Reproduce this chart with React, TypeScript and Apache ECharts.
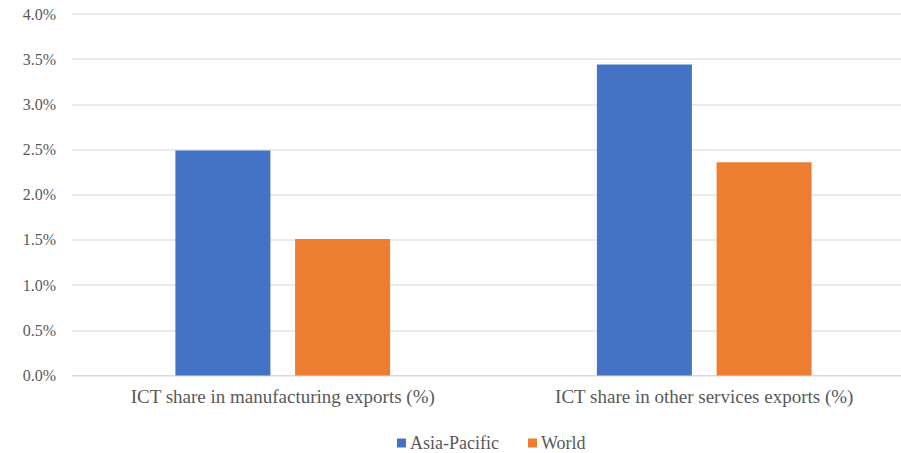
import React, { useEffect, useRef } from "react";
import * as echarts from "echarts";

const categories: string[] = [
  "ICT share in manufacturing exports (%)",
  "ICT share in other services exports (%)",
];
const asiaPacific: number[] = [2.49, 3.44];
const world: number[] = [1.51, 2.36];
const seriesNames: string[] = ["Asia-Pacific", "World"];
const seriesColors: string[] = ["#4472C4", "#ED7D31"];

const FONT = "'Liberation Serif', 'Times New Roman', serif";
const TEXT_COLOR = "#595959";

// Legend keys drawn by hand: square swatch followed by its label.
const legendX: number[] = [397, 528];
const LEGEND_Y = 444;

export default function App() {
  const ref = useRef<HTMLDivElement>(null);

  useEffect(() => {
    if (!ref.current) return;
    const chart = echarts.init(ref.current, null, { renderer: "svg" });

    const legendGraphics = seriesNames.map((name, i) => ({
      type: "group",
      left: legendX[i],
      top: LEGEND_Y - 10,
      children: [
        {
          type: "rect",
          shape: { x: 0, y: 5.5, width: 9, height: 9 },
          style: { fill: seriesColors[i] },
        },
        {
          type: "text",
          x: 13,
          y: 10,
          style: {
            text: name,
            fontFamily: FONT,
            fontSize: 18,
            fill: TEXT_COLOR,
            verticalAlign: "middle",
            align: "left",
          },
        },
      ],
    }));

    chart.setOption({
      animation: false,
      backgroundColor: "#ffffff",
      color: seriesColors,
      textStyle: { fontFamily: FONT },
      grid: {
        left: 72,
        top: 14,
        width: 843,
        height: 361.5,
        containLabel: false,
        outerBoundsMode: "none",
      },
      graphic: legendGraphics,
      xAxis: {
        type: "category",
        data: categories,
        axisLine: { show: true, lineStyle: { color: "#d9d9d9", width: 1 } },
        axisTick: { show: false },
        axisLabel: {
          fontFamily: FONT,
          fontSize: 19,
          color: TEXT_COLOR,
          margin: 11,
        },
      },
      yAxis: {
        type: "value",
        min: 0,
        max: 4,
        interval: 0.5,
        axisLine: { show: false },
        axisTick: { show: false },
        splitLine: { lineStyle: { color: "#e3e3e3", width: 1.5 } },
        axisLabel: {
          fontFamily: FONT,
          fontSize: 16,
          color: TEXT_COLOR,
          margin: 16,
          formatter: (v: number) => v.toFixed(1) + "%",
        },
      },
      series: [
        {
          name: seriesNames[0],
          type: "bar",
          data: asiaPacific,
          barWidth: 95,
          barGap: "26%",
        },
        {
          name: seriesNames[1],
          type: "bar",
          data: world,
          barWidth: 95,
          barGap: "26%",
        },
      ],
    });
    return () => chart.dispose();
  }, []);

  return (
    <div
      ref={ref}
      style={{ position: "absolute", left: 0, top: 0, width: 901, height: 453 }}
    />
  );
}
